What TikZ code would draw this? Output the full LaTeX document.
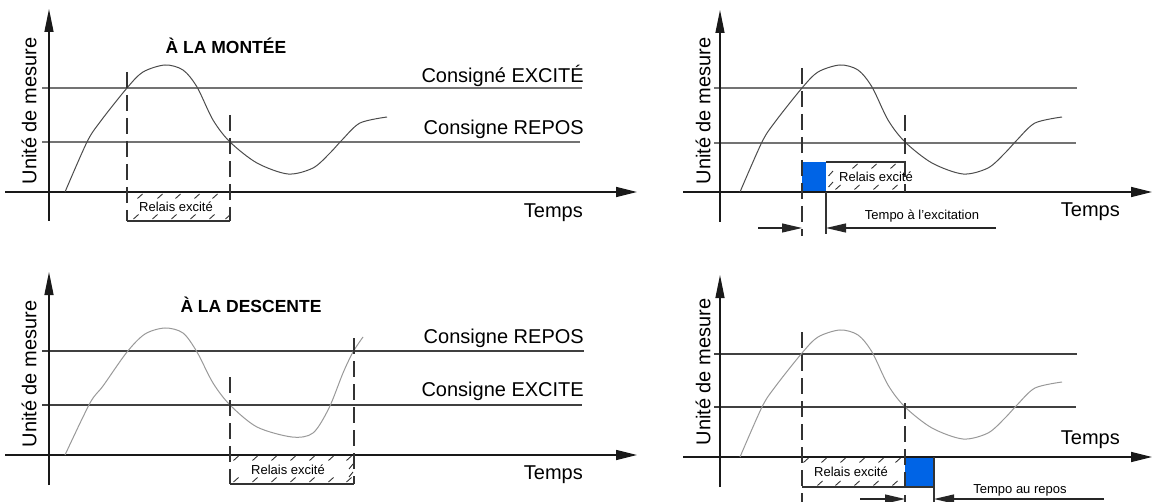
\documentclass[tikz,border=0pt]{standalone}
\usepackage{fontspec}
\setmainfont{Liberation Sans}
\usetikzlibrary{arrows.meta}
\definecolor{relblue}{RGB}{0,100,230}
\begin{document}
\begin{tikzpicture}[x=1pt,y=-1pt,
  axisline/.style={draw=black!90,line width=1.3pt},
  yarrow/.style={axisline,-{Triangle[length=23pt,width=9pt]}},
  xarrow/.style={axisline,-{Triangle[length=21pt,width=10pt]}},
  dimarrow/.style={draw=black!85,line width=1.1pt,-{Triangle[length=20pt,width=9pt]}},
  levelA/.style={draw=black!55,line width=1.2pt},
  levelB/.style={draw=black!75,line width=1.2pt},
  curveA/.style={draw=black!70,line width=1pt},
  curveB/.style={draw=black!40,line width=1pt},
  dashv/.style={draw=black!80,line width=1.1pt,dash pattern=on 16pt off 7pt},
  solidv/.style={draw=black!80,line width=1.1pt},
  hatch/.style={draw=black!80,line width=0.9pt},
  big/.style={font=\fontsize{20}{24}\selectfont,inner sep=0pt},
  ttl/.style={font=\fontsize{17.5}{21}\selectfont\bfseries,inner sep=0pt},
  small/.style={font=\fontsize{13}{15}\selectfont,inner sep=0pt},
  ylab/.style={big,rotate=90}]
\useasboundingbox (0,0) rectangle (1155,502);
\def\upcurve{plot[smooth,tension=0.5] coordinates {(65,192) (87,142) (100,122) (127,88) (143,72) (165,65) (183,70) (197,87) (213,120) (230,142) (257,163) (288,174) (313,168) (330,153) (342,140) (360,123) (387,117)}}
\def\downcurve{plot[smooth,tension=0.5] coordinates {(65,455) (90,403) (103,386) (127,352) (145,334) (165,328) (183,333) (197,352) (213,383) (230,405) (257,427) (292,437) (313,433) (329,408) (343,373) (353,352) (363,337)}}

% ================= Panel 1 =================
\coordinate (p1yb) at (49,221); \coordinate (p1yt) at (49,9);
\coordinate (p1xl) at (5,192);  \coordinate (p1xr) at (637,192);
\draw[levelA] (42,88) -- (582,88);
\draw[levelA] (42,142) -- (580,142);
\draw[yarrow] (p1yb) -- (p1yt);
\draw[xarrow] (p1xl) -- (p1xr);
\draw[curveA] \upcurve;
\draw[dashv] (127,72) -- (127,221);
\draw[dashv] (230,115) -- (230,221);
\draw[solidv] (127,221) -- (230,221);
\foreach \x in {140,160,178,197,215} \draw[hatch] (\x-2.5,198.5) -- (\x+2.5,194);
\foreach \x in {136,155,174,193,212,228} \draw[hatch] (\x-2.5,219) -- (\x+2.5,214.5);
\node[small] (p1rel) at (176,207) {Relais excité};
\node[ttl] (p1ttl) at (226,46) {À LA MONTÉE};
\node[big,anchor=east] (p1exc) at (584,76) {Consigné EXCITÉ};
\node[big,anchor=east] (p1rep) at (584,129) {Consigne REPOS};
\node[big,anchor=east] (p1tps) at (583,213) {Temps};
\node[ylab] (p1yl) at (29,111) {Unité de mesure};

% ================= Panel 2 =================
\coordinate (p2yb) at (720,222); \coordinate (p2yt) at (720,10);
\coordinate (p2xl) at (683,192); \coordinate (p2xr) at (1152,192);
\draw[levelA] (714,88) -- (1077,88);
\draw[levelA] (714,143) -- (1076,143);
\draw[yarrow] (p2yb) -- (p2yt);
\fill[relblue] (802,162) rectangle (826,192);
\draw[xarrow] (p2xl) -- (p2xr);
\begin{scope}[shift={(675,0)}]
\draw[curveA] \upcurve;
\end{scope}
\draw[dashv] (802,68) -- (802,236);
\draw[dashv] (905,115) -- (905,192);
\draw[solidv] (826,162) -- (905,162);
\draw[solidv] (826,192) -- (826,234);
\foreach \x in {855,874,893} \draw[hatch] (\x-2.5,168.5) -- (\x+2.5,164);
\foreach \y in {172,183} \draw[hatch] (828.5,\y+4) -- (833,\y-1);
\foreach \x in {838,857,876,895} \draw[hatch] (\x-2.5,189.5) -- (\x+2.5,185);
\node[small] (p2rel) at (876,177) {Relais excité};
\coordinate (p2a1) at (758,228); \coordinate (p2a1t) at (802,228);
\coordinate (p2a2) at (996,228); \coordinate (p2a2t) at (826,228);
\draw[dimarrow] (p2a1) -- (p2a1t);
\draw[dimarrow] (p2a2) -- (p2a2t);
\node[small] (p2tmp) at (922,216) {Tempo à l'excitation};
\node[big,anchor=east] (p2tps) at (1120,212) {Temps};
\node[ylab] (p2yl) at (703,111) {Unité de mesure};

% ================= Panel 3 =================
\coordinate (p3yb) at (49,485); \coordinate (p3yt) at (49,272);
\coordinate (p3xl) at (5,455);  \coordinate (p3xr) at (637,455);
\draw[levelB] (42,351) -- (584,351);
\draw[levelB] (42,405) -- (582,405);
\draw[yarrow] (p3yb) -- (p3yt);
\draw[xarrow] (p3xl) -- (p3xr);
\draw[curveB] \downcurve;
\draw[dashv] (230,377) -- (230,484);
\draw[dashv] (354,338) -- (354,484);
\draw[solidv] (230,484) -- (354,484);
\foreach \x in {236,255,274,293,312,331,349} \draw[hatch] (\x-2.5,460.5) -- (\x+2.5,456);
\foreach \x in {236,255,274,293,312,331,349} \draw[hatch] (\x-2.5,482) -- (\x+2.5,477.5);
\foreach \y in {466,474} \draw[hatch] (349,\y+3) -- (353,\y-2);
\node[small] (p3rel) at (288,470) {Relais excité};
\node[ttl] (p3ttl) at (251,305) {À LA DESCENTE};
\node[big,anchor=east] (p3rep) at (584,338) {Consigne REPOS};
\node[big,anchor=east] (p3exc) at (584,391) {Consigne EXCITE};
\node[big,anchor=east] (p3tps) at (583,475) {Temps};
\node[ylab] (p3yl) at (29,374) {Unité de mesure};

% ================= Panel 4 =================
\coordinate (p4yb) at (720,487); \coordinate (p4yt) at (720,275);
\coordinate (p4xl) at (683,457); \coordinate (p4xr) at (1152,457);
\draw[levelB] (714,354) -- (1077,354);
\draw[levelB] (714,407) -- (1076,407);
\draw[yarrow] (p4yb) -- (p4yt);
\fill[relblue] (905,457) rectangle (934,487);
\draw[xarrow] (p4xl) -- (p4xr);
\begin{scope}[shift={(675,265)}]
\draw[curveB] \upcurve;
\end{scope}
\draw[dashv] (802,332) -- (802,502);
\draw[dashv] (905,403) -- (905,502);
\draw[solidv] (802,487) -- (934,487);
\draw[solidv] (934,457) -- (934,502);
\foreach \x in {806,824,843,862,881,898} \draw[hatch] (\x-2.5,462.5) -- (\x+2.5,458);
\foreach \x in {820,838,857,876,895} \draw[hatch] (\x-2.5,485.5) -- (\x+2.5,481);
\node[small] (p4rel) at (851,472) {Relais excité};
\coordinate (p4a1) at (860,499); \coordinate (p4a1t) at (905,499);
\coordinate (p4a2) at (1104,499); \coordinate (p4a2t) at (934,499);
\draw[dimarrow] (p4a1) -- (p4a1t);
\draw[dimarrow] (p4a2) -- (p4a2t);
\node[small] (p4tmp) at (1020,490) {Tempo au repos};
\node[big,anchor=east] (p4tps) at (1120,440) {Temps};
\node[ylab] (p4yl) at (703,372) {Unité de mesure};
\end{tikzpicture}
\end{document}
